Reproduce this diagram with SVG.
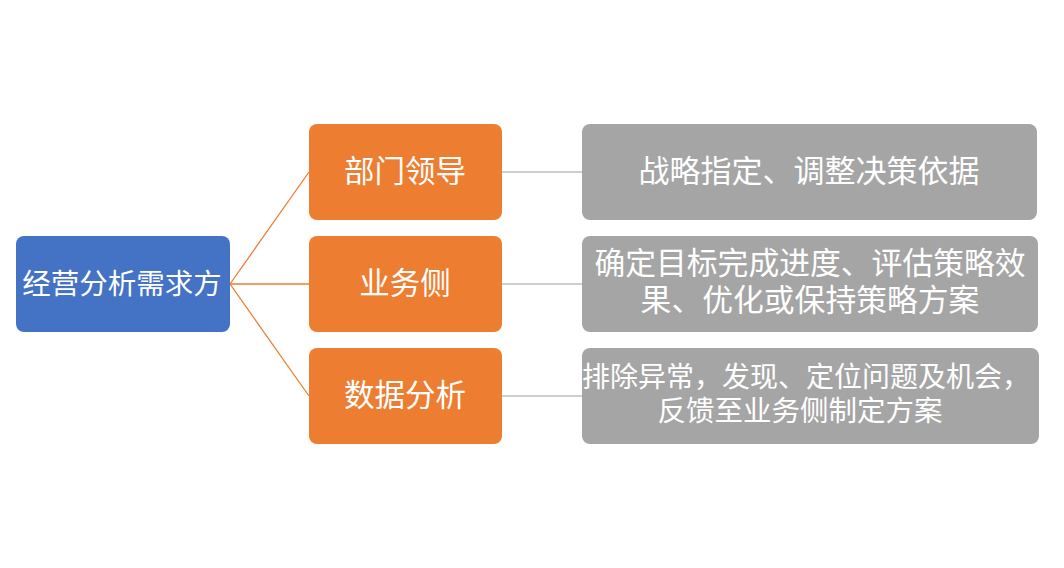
<svg xmlns="http://www.w3.org/2000/svg" width="1064" height="568" viewBox="0 0 1064 568">
<style>
text{font-family:"Microsoft YaHei","Noto Sans CJK SC",sans-serif;fill:#fff;text-anchor:middle}
.root{fill:#4472C4}
.mid{fill:#ED7D31}
.leaf{fill:#A5A5A5}
.c1{stroke:#ED7D31;stroke-width:1.3;fill:none}
.c2{stroke:#BFBFBF;stroke-width:1.3;fill:none}
</style>
<rect width="1064" height="568" fill="#fff"/>
<g id="connectors">
<line class="c1" x1="230" y1="284" x2="309" y2="172"/>
<line class="c1" x1="230" y1="284" x2="309" y2="284"/>
<line class="c1" x1="230" y1="284" x2="309" y2="396"/>
<line class="c2" x1="502" y1="172" x2="582" y2="172"/>
<line class="c2" x1="502" y1="284" x2="582" y2="284"/>
<line class="c2" x1="502" y1="396" x2="582" y2="396"/>
</g>
<g id="root"><rect class="root" x="16" y="236" width="214" height="96" rx="8"/><text x="122" y="294" font-size="28.5">经营分析需求方</text></g>
<g id="n1"><rect class="mid" x="309" y="124" width="193" height="96" rx="8"/><text x="405" y="182" font-size="30.5">部门领导</text></g>
<g id="n2"><rect class="mid" x="309" y="236" width="193" height="96" rx="8"/><text x="405" y="294" font-size="30.5">业务侧</text></g>
<g id="n3"><rect class="mid" x="309" y="348" width="193" height="96" rx="8"/><text x="405" y="406" font-size="30.5">数据分析</text></g>
<g id="l1"><rect class="leaf" x="582" y="124" width="455" height="96" rx="8"/><text x="809" y="182" font-size="31">战略指定、调整决策依据</text></g>
<g id="l2"><rect class="leaf" x="582" y="236" width="456" height="96" rx="8"/><text x="810" y="274" font-size="30.8">确定目标完成进度、评估策略效</text><text x="810" y="311" font-size="30.8">果、优化或保持策略方案</text></g>
<g id="l3"><rect class="leaf" x="582" y="348" width="457" height="96" rx="8"/><text x="806" y="387" font-size="28">排除异常，发现、定位问题及机会，</text><text x="800" y="421" font-size="28.5">反馈至业务侧制定方案</text></g>
</svg>
